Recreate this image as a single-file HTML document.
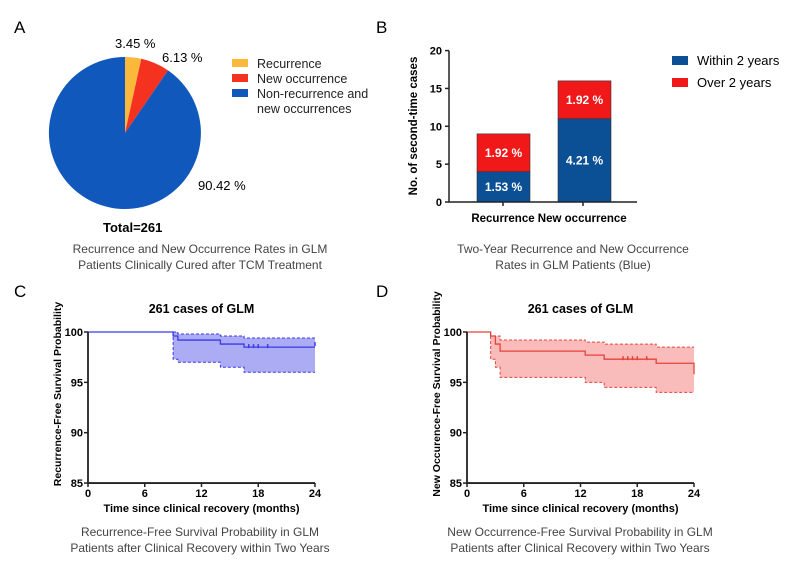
<!DOCTYPE html>
<html><head><meta charset="utf-8"><style>
html,body{margin:0;padding:0;background:#fff;}
svg{display:block;font-family:"Liberation Sans",Arial,sans-serif;}
.b{font-weight:bold;}
</style></head><body>
<svg id="s" width="790" height="564" viewBox="0 0 790 564" xmlns="http://www.w3.org/2000/svg">
<rect width="790" height="564" fill="#fff"/>
<text x="14" y="33" font-size="17">A</text>
<path d="M125,133 L125,57 A76,76 0 0,1 141.3,58.8 Z" fill="#fbb93b"/>
<path d="M125,133 L141.3,58.8 A76,76 0 0,1 168,70.4 Z" fill="#f5321f"/>
<path d="M125,133 L168,70.4 A76,76 0 1,1 125,57 Z" fill="#1058bb"/>
<text x="115" y="48" font-size="13">3.45 %</text>
<text x="162" y="62" font-size="13">6.13 %</text>
<text x="198" y="190" font-size="13">90.42 %</text>
<text x="103" y="232" font-size="13" class="b">Total=261</text>
<rect x="232" y="59" width="16" height="8" fill="#fbb93b"/>
<rect x="232" y="74" width="16" height="8" fill="#f5321f"/>
<rect x="232" y="89" width="16" height="8" fill="#1058bb"/>
<text font-size="12.5" fill="#222"><tspan x="257" y="68">Recurrence</tspan><tspan x="257" y="83">New occurrence</tspan><tspan x="257" y="98">Non-recurrence and</tspan><tspan x="257" y="113">new occurrences</tspan></text>
<text font-size="12" fill="#444" text-anchor="middle"><tspan x="200" y="253">Recurrence and New Occurrence Rates in GLM</tspan><tspan x="200" y="269">Patients Clinically Cured after TCM Treatment</tspan></text>
<text x="376" y="33" font-size="17">B</text>
<g id="bars"></g>
<text font-size="12" fill="#444" text-anchor="middle"><tspan x="573" y="253">Two-Year Recurrence and New Occurrence</tspan><tspan x="573" y="269">Rates in GLM Patients (Blue)</tspan></text>
<text x="14" y="297" font-size="17">C</text>
<text x="376" y="297" font-size="17">D</text>
<g id="km"></g>
<text font-size="12" fill="#444" text-anchor="middle"><tspan x="200" y="536">Recurrence-Free Survival Probability in GLM</tspan><tspan x="200" y="552">Patients after Clinical Recovery within Two Years</tspan></text>
<text font-size="12" fill="#444" text-anchor="middle"><tspan x="580" y="536">New Occurrence-Free Survival Probability in GLM</tspan><tspan x="580" y="552">Patients after Clinical Recovery within Two Years</tspan></text>
</svg>
<script>
var NS="http://www.w3.org/2000/svg";
function el(p,t,a,txt){var e=document.createElementNS(NS,t);for(var k in a)e.setAttribute(k,a[k]);if(txt!==undefined)e.textContent=txt;p.appendChild(e);return e;}
var g=document.getElementById('bars');
var y0=202,u=7.57,ax=449;
function Y(v){return y0-v*u;}
function bar(x,b,r,tb,tr){
 el(g,'rect',{x:x,y:Y(b),width:53,height:b*u,fill:'#0b4f94',stroke:'#333','stroke-width':0.6});
 el(g,'rect',{x:x,y:Y(b+r),width:53,height:r*u,fill:'#f01818',stroke:'#333','stroke-width':0.6});
 el(g,'text',{x:x+26.5,y:(Y(b)+y0)/2+4,'font-size':12,'font-weight':'bold',fill:'#fff','text-anchor':'middle'},tb);
 el(g,'text',{x:x+26.5,y:(Y(b)+Y(b+r))/2+4,'font-size':12,'font-weight':'bold',fill:'#fff','text-anchor':'middle'},tr);
}
bar(477,4,5,'1.53 %','1.92 %');
bar(558,11,5,'4.21 %','1.92 %');
el(g,'path',{d:'M'+ax+','+Y(20)+'V'+y0+'H637',stroke:'#222','stroke-width':1.5,fill:'none'});
[0,5,10,15,20].forEach(function(v){el(g,'path',{d:'M'+(ax-4)+','+Y(v)+'H'+ax,stroke:'#222','stroke-width':1.5});el(g,'text',{x:ax-7,y:Y(v)+4,'font-size':11,'font-weight':'bold','text-anchor':'end'},v);});
[503,583].forEach(function(x){el(g,'path',{d:'M'+x+','+y0+'V'+(y0+4),stroke:'#222','stroke-width':1.5});});
el(g,'text',{x:549,y:222,'font-size':11.5,'font-weight':'bold','text-anchor':'middle'},'Recurrence New occurrence');
el(g,'text',{x:0,y:0,'font-size':11.5,'font-weight':'bold','text-anchor':'middle',transform:'translate(417,126) rotate(-90)'},'No. of second-time cases');
el(g,'rect',{x:672,y:56,width:16,height:9,fill:'#0b4f94'});
el(g,'rect',{x:672,y:78,width:16,height:9,fill:'#f01818'});
el(g,'text',{x:697,y:65,'font-size':13},'Within 2 years');
el(g,'text',{x:697,y:87,'font-size':13},'Over 2 years');
var k=document.getElementById('km');
function valAt(arr,t){var v=arr[0][1];for(var i=0;i<arr.length;i++){if(arr[i][0]<=t)v=arr[i][1];}return v;}
function corners(arr,t0){var pts=[[t0,valAt(arr,t0)]];for(var i=0;i<arr.length;i++){if(arr[i][0]>t0){pts.push([arr[i][0],pts[pts.length-1][1]]);pts.push([arr[i][0],arr[i][1]]);}}pts.push([24,pts[pts.length-1][1]]);return pts;}
function panel(x0,x24,col,fill,main,up,lo,cens,endDrop,ylab){
 var X=function(t){return x0+t*(x24-x0)/24;}, YY=function(v){return 332+(100-v)*10.07;};
 function step(pts){var d='M'+X(pts[0][0])+','+YY(pts[0][1]);for(var i=1;i<pts.length;i++){d+='H'+X(pts[i][0])+'V'+YY(pts[i][1]);}return d;}
 var t0=lo[0][0];
 var U=corners(up,t0), L=corners(lo,t0).reverse();
 var all=U.concat(L);
 el(k,'polygon',{points:all.map(function(p){return X(p[0])+','+YY(p[1]);}).join(' '),fill:fill});
 el(k,'path',{d:step(up)+'H'+X(24),fill:'none',stroke:col,'stroke-width':1,'stroke-dasharray':'3,2'});
 el(k,'path',{d:'M'+X(t0)+','+YY(valAt(up,t0))+'V'+YY(lo[0][1])+step(lo).replace(/^M[^HV]*/,'')+'H'+X(24),fill:'none',stroke:col,'stroke-width':1,'stroke-dasharray':'3,2'});
 el(k,'path',{d:step(main)+'H'+X(24)+(endDrop?'V'+YY(endDrop):''),fill:'none',stroke:col,'stroke-width':1.3});
 cens.forEach(function(t){var v=t[1];el(k,'path',{d:'M'+X(t[0])+','+(YY(v)-3)+'V'+(YY(v)+1),stroke:col,'stroke-width':1.5});});
 el(k,'path',{d:'M'+x0+','+YY(100)+'V'+YY(85)+'H'+x24,stroke:'#222','stroke-width':1.8,fill:'none'});
 [100,95,90,85].forEach(function(v){el(k,'path',{d:'M'+(x0-4)+','+YY(v)+'H'+x0,stroke:'#222','stroke-width':1.5});el(k,'text',{x:x0-5,y:YY(v)+4,'font-size':11,'font-weight':'bold','text-anchor':'end'},v);});
 [0,6,12,18,24].forEach(function(t){el(k,'path',{d:'M'+X(t)+','+YY(85)+'V'+(YY(85)+4),stroke:'#222','stroke-width':1.5});el(k,'text',{x:X(t),y:YY(85)+14,'font-size':11,'font-weight':'bold','text-anchor':'middle'},t);});
 el(k,'text',{x:(x0+x24)/2,y:512,'font-size':11,'font-weight':'bold','text-anchor':'middle'},'Time since clinical recovery (months)');
 el(k,'text',{x:(x0+x24)/2,y:313,'font-size':12.5,'font-weight':'bold','text-anchor':'middle'},'261 cases of GLM');
 el(k,'text',{x:0,y:0,'font-size':10.5,'font-weight':'bold','text-anchor':'middle',transform:'translate('+(x0-27)+',394) rotate(-90)'},ylab);
}
panel(88,315,'#3a3ae8','rgba(90,90,235,0.5)',
 [[0,100],[9,99.6],[9.5,99.2],[14,98.8],[16.5,98.5]],
 [[0,100],[9.5,99.8],[14,99.6],[16.5,99.4]],
 [[9,97.3],[9.5,97.0],[14,96.5],[16.5,96.0]],
 [[17,98.5],[17.5,98.5],[18,98.5],[19,98.5],[24,98.7]],null,'Recurrence-Free Survival Probability');
panel(467,694,'#e8413a','rgba(245,120,120,0.5)',
 [[0,100],[2.5,99.6],[3,98.8],[3.5,98.1],[12.5,97.7],[14.5,97.3],[20,96.9]],
 [[0,100],[2.5,99.6],[3.5,99.2],[12.5,99.0],[14.5,98.8],[20,98.5]],
 [[2.5,97.3],[3,96.5],[3.5,95.5],[12.5,95.0],[14.5,94.5],[20,94.0]],
 [[16.5,97.3],[17,97.3],[17.5,97.3],[18,97.3],[19,97.3]],95.8,'New Occurence-Free Survival Probability');
</script>
</body></html>
